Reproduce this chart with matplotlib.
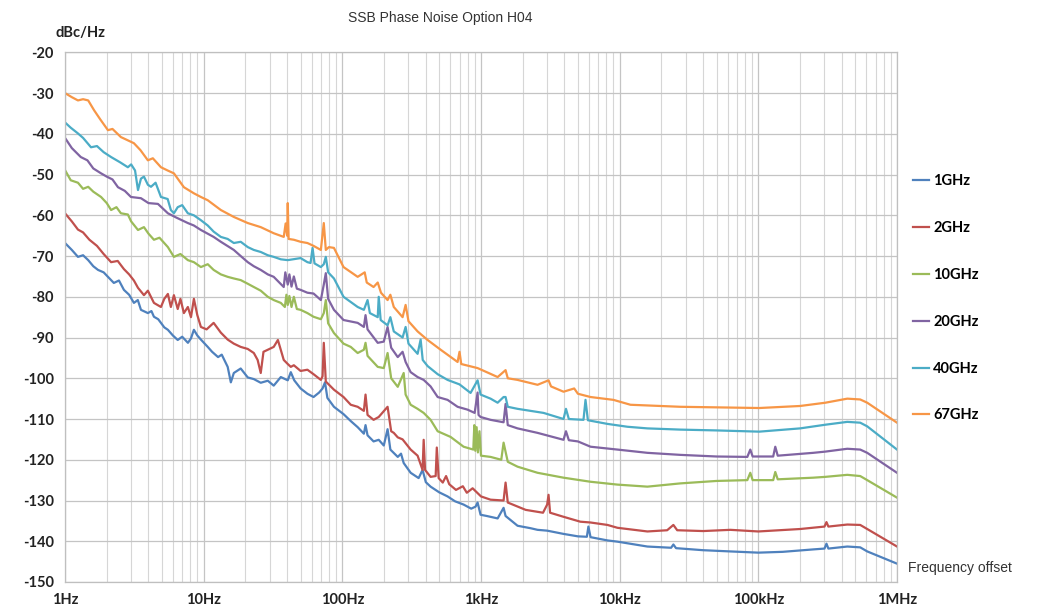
import numpy as np
import matplotlib
matplotlib.use('Agg')
import matplotlib.pyplot as plt
from matplotlib.ticker import FixedLocator, NullFormatter

# values (Hz, dBc/Hz)
f_1g = [1, 1.12, 1.24, 1.35, 1.47, 1.6, 1.73, 1.9, 2.04, 2.25, 2.45, 2.66, 2.9, 3.14, 3.35, 3.53, 3.96, 4.2, 4.38, 4.7,
        4.92, 5.2, 5.52, 6.0, 6.5, 7.0, 7.7, 8.1, 8.5, 9.0, 9.55, 10.7, 11.5, 12.7, 13.5, 14.9, 15.7, 16.5, 18.5, 20.8,
        23, 25.8, 29, 32, 36, 40.4, 42.5, 45, 50, 56, 62, 68, 72, 75, 78, 87, 102, 115, 129, 143,
        147, 152, 168, 183, 199, 212, 222, 251, 265, 277, 311, 355, 379, 400, 433, 500, 574, 650, 749, 850,
        914, 945, 993, 1100, 1318, 1455, 1504, 1835, 2277, 2558, 3000, 3937, 5000, 5800, 5950, 6166, 8170, 9640, 15850, 23500,
        24400, 25500, 40000, 62800, 100000, 150000, 250000, 300000, 310000, 320000, 438000, 543000, 610000, 1000000]
db_1g = [-66.8, -68.5, -70.2, -69.8, -71, -72.5, -73.4, -74, -75.1, -76.6, -76, -78.3, -79.5, -81.5, -80.8, -83.2, -84, -83.5, -84.9, -85.5,
         -86.4, -87.5, -88.1, -89.5, -90.6, -89.8, -91.3, -90.2, -88.1, -89.5, -90.5, -92.3, -93.5, -94.8, -94.2, -97.2, -101, -98.7, -97.6, -99.8,
         -100.2, -101.1, -100.6, -101.8, -99.7, -100.5, -98.5, -100.5, -102.5, -103.8, -104.6, -103.5, -102.5, -101, -104.8, -107, -108.8, -110.5, -112, -113.6,
         -111.5, -114, -115.5, -115.1, -116.5, -112.5, -117.5, -119.3, -118.5, -120.8, -123.2, -124.5, -122.5, -125.5, -126.6, -128, -129, -130.2, -131, -132,
         -131.5, -130.5, -133.5, -133.8, -134.4, -131.8, -133.8, -136.2, -136.8, -137.2, -137.4, -138.2, -138.8, -138.9, -136.4, -139, -139.8, -140.1, -141.3, -141.6,
         -140.8, -141.7, -142.2, -142.5, -142.8, -142.6, -142, -141.8, -140.6, -141.8, -141.3, -141.5, -142.5, -145.5]

f_2g = [1, 1.12, 1.24, 1.35, 1.5, 1.7, 1.9, 2.15, 2.4, 2.66, 2.9, 3.14, 3.36, 3.71, 3.96, 4.38, 4.92, 5.2, 5.52, 5.8,
        6.1, 6.5, 6.8, 7.2, 7.69, 8.1, 8.5, 9.0, 9.55, 10.5, 11.8, 13.3, 14.9, 16.5, 18.5, 20.8, 23, 24.5, 25.8, 27,
        29, 32, 34.3, 37.8, 40.4, 42.5, 44.7, 50, 56, 62, 70, 72, 73.5, 76, 87, 102, 115, 129, 143, 147,
        152, 168, 183, 212, 225, 235, 251, 272, 311, 349, 379, 386, 395, 433, 471, 480, 495, 530, 560, 590,
        660, 740, 790, 870, 1000, 1172, 1455, 1504, 1560, 2100, 2800, 3000, 3070, 3150, 3937, 5200, 6166, 8170, 9640, 15850,
        22000, 24400, 26000, 40000, 62800, 100000, 200000, 300000, 310000, 320000, 438000, 543000, 610000, 1000000]
db_2g = [-59.5, -61.5, -63.5, -64.2, -66, -67.5, -69.5, -71.5, -71.2, -73.2, -74.5, -76, -77.8, -79.6, -78.5, -81.5, -82.5, -80.5, -79.3, -82.5,
         -79.6, -83, -80.5, -84, -82.5, -85, -80.5, -84.5, -87.4, -88, -86.4, -88.8, -90.5, -91.5, -92.3, -92.8, -93.8, -95.5, -98.7, -93.5,
         -93, -92.3, -90.6, -95.5, -96.5, -97.2, -96.8, -98.2, -97.9, -99, -100.4, -99.5, -91.3, -100.8, -102.8, -104.6, -106.5, -107, -108, -104,
         -109, -110.2, -109.5, -107, -113, -113.4, -114.5, -115, -117.5, -119, -122.5, -115.1, -122.5, -124.2, -124, -117, -124.5, -125.6, -124, -126,
         -127.4, -126.5, -128.1, -127, -129, -129.8, -130, -125.6, -130.5, -132.3, -133, -131, -128.6, -133, -134, -135.2, -135.4, -136, -136.7, -137.6,
         -137.3, -136, -137.3, -137.5, -137.2, -137.6, -137, -136.4, -135.3, -136.4, -135.9, -136, -137, -141.3]

f_10g = [1, 1.1, 1.24, 1.35, 1.47, 1.6, 1.82, 2.0, 2.15, 2.35, 2.53, 2.84, 3.0, 3.36, 3.71, 4.0, 4.38, 4.8, 5.52, 6.1,
         6.8, 7.69, 8.5, 9.55, 10.7, 11.8, 13.3, 14.9, 16.5, 18.5, 20.8, 23, 25.8, 29, 32, 36, 38.5, 39.5, 40.4, 41.5,
         43, 44.7, 47, 50, 56, 62, 70, 73.5, 76, 79, 87, 102, 115, 129, 143, 147, 152, 180, 199, 212,
         225, 251, 277, 286, 311, 349, 386, 433, 487, 604, 749, 880, 895, 910, 930, 950, 975, 1000, 1172, 1400,
         1455, 1560, 1835, 2558, 3937, 6166, 9640, 15850, 27400, 50000, 83300, 87500, 91000, 128000, 132500, 138000, 249000, 304000, 438000, 543000,
         610000, 1000000]
db_10g = [-48.9, -51.4, -52, -53.5, -53, -54.2, -55.5, -57, -58.7, -58, -59.5, -59.8, -61.5, -63.6, -62.9, -64.5, -66, -65.5, -67.8, -70.2,
          -69.5, -71, -71.5, -72.7, -72, -73.4, -74.5, -75.1, -75.5, -75.9, -76.8, -77.6, -78.5, -80, -80.8, -81.5, -82.5, -79.5, -82, -79.8,
          -82.5, -80, -83, -83.2, -84, -84.9, -85.5, -84, -80.8, -86.5, -88.9, -91.5, -92.3, -93.8, -93, -91.3, -94.5, -97.2, -97.5, -93.8,
          -100, -102.1, -98.7, -104, -106.5, -107.5, -108.5, -110.2, -113, -114.4, -116.8, -117.5, -111.5, -117.8, -112, -118.2, -113, -119, -119.3, -120,
          -115.8, -120.5, -121.7, -123.2, -124.4, -125.4, -126.1, -126.6, -125.8, -125.2, -125, -123.2, -125, -125, -123, -124.8, -124.4, -124.2, -123.7, -124,
          -125, -129.3]

f_20g = [1, 1.12, 1.3, 1.45, 1.6, 1.82, 2.0, 2.2, 2.41, 2.7, 2.99, 3.53, 4.0, 4.68, 5.52, 6.3, 7.69, 8.5, 9.55, 11.8,
         13.3, 16.5, 18.5, 20.8, 23, 25.8, 29, 32, 37.8, 38.8, 40.4, 41.5, 43, 44.7, 47, 50, 56, 62, 70, 73.5,
         76, 79, 87, 102, 129, 143, 147, 152, 180, 199, 212, 225, 251, 272, 286, 311, 349, 386, 433, 487,
         574, 678, 800, 900, 945, 960, 993, 1172, 1455, 1504, 1560, 1835, 2558, 3937, 4100, 4300, 5000, 6166, 9640, 15850,
         27400, 50000, 83300, 87500, 91000, 128000, 132500, 138000, 249000, 304000, 438000, 543000, 610000, 1000000]
db_20g = [-41, -43.5, -45.7, -46.5, -48.5, -49.7, -50.5, -51.2, -53.1, -54, -55.5, -55.8, -57, -57.2, -59.5, -60.5, -61.9, -62.5, -63.6, -65.3,
          -66.5, -68.5, -70, -71.5, -72.5, -73.4, -74.5, -75.1, -77.6, -74, -77, -74.5, -77.5, -75, -78, -78.3, -79, -79.2, -80.8, -77,
          -74.2, -80.5, -83.2, -85.7, -86.4, -87.4, -84.5, -88, -91.3, -91, -87.4, -92.5, -94.8, -93.5, -96, -98.5, -99.7, -100.4, -102, -104.6,
          -105.3, -107, -107.7, -108.5, -103.5, -109, -109.5, -110.2, -110.8, -106.3, -111.5, -112.3, -113.4, -115.1, -113, -115.2, -115.5, -116.8, -117.5, -118.3,
          -118.8, -119.2, -119.3, -117.5, -119.2, -119.2, -116.8, -119, -118.3, -118, -117.3, -117.5, -118.3, -123.2]

f_40g = [1, 1.1, 1.24, 1.35, 1.54, 1.7, 1.9, 2.15, 2.5, 2.84, 3.0, 3.2, 3.36, 3.53, 3.71, 3.96, 4.17, 4.5, 4.92, 5.5,
         5.8, 6.1, 6.5, 7.0, 7.69, 8.5, 9.55, 10.7, 11.8, 13.3, 14.9, 16.5, 18.5, 20.8, 23, 25.8, 29, 32, 36, 40.4,
         50, 56, 59, 61, 63, 70, 73.5, 76, 79, 87, 102, 129, 143, 152, 158, 180, 183, 189, 212, 222,
         235, 272, 286, 300, 349, 367, 380, 412, 487, 574, 700, 841, 945, 993, 1172, 1318, 1455, 1504, 1560, 1835,
         2826, 3937, 4100, 4300, 5483, 5671, 5900, 8170, 11380, 15850, 27400, 50000, 101600, 200000, 304000, 438000, 543000, 610000, 1000000]
db_40g = [-37.2, -38.5, -39.9, -41, -43.3, -43, -44.5, -45.7, -47, -48.2, -47.5, -49, -53.8, -51, -50.5, -52.5, -53, -52, -55.5, -56,
          -58.7, -59.5, -58, -57.5, -59.5, -60, -61.2, -62.5, -64, -65.3, -65.8, -66.8, -66.5, -67.8, -68.5, -69, -69.8, -70.2, -70.8, -71,
          -70.5, -71.5, -71.7, -68, -71.8, -72.7, -72, -70.2, -74, -75.5, -80, -82.5, -83.2, -80.8, -84, -85, -80, -85.7, -87, -85,
          -88.5, -90, -87.4, -91.5, -94, -90.5, -95.5, -97, -99, -100.4, -101.5, -103.6, -100.5, -104, -105, -106, -104.6, -104.6, -107, -107.5,
          -108.5, -110, -107.5, -110, -110.2, -105.3, -110.3, -111.2, -111.9, -112.3, -112.6, -112.8, -113.1, -112.3, -111.4, -110.7, -110.9, -111.8, -117.5]

f_67g = [1, 1.12, 1.24, 1.35, 1.47, 1.62, 1.8, 2.04, 2.2, 2.53, 2.8, 3.14, 3.5, 3.96, 4.3, 4.92, 5.5, 6.1, 7.2, 8.5,
         9.55, 10.7, 13.3, 16.5, 20.8, 25.8, 32, 37.8, 39, 40, 40.4, 41, 44.7, 50, 56, 62, 70, 73.5, 76, 80,
         87, 102, 129, 145, 150, 168, 180, 190, 212, 222, 235, 272, 286, 300, 349, 412, 512, 678, 700, 720,
         945, 1100, 1318, 1504, 1560, 1835, 2558, 2826, 3070, 3200, 3937, 4700, 5000, 6166, 9020, 11960, 27400, 101600, 200000, 304000,
         438000, 543000, 610000, 1000000]
db_67g = [-30, -31, -31.8, -31.5, -31.8, -34.2, -36.5, -39.1, -38.8, -40.8, -41.5, -42.3, -44, -46.5, -46, -48.2, -49, -49.7, -53.1, -54.6,
          -55.5, -56.3, -58.7, -60.4, -61.9, -62.9, -64.4, -65.3, -62, -65, -57, -65.8, -66, -66.5, -66.8, -67.5, -68.5, -61.9, -68.5, -67.8,
          -68, -72.7, -75.1, -74, -76.5, -77.6, -76.5, -79, -80.8, -79.5, -82.5, -85, -82, -86, -88.5, -90.6, -93, -96, -93.5, -96.5,
          -97.5, -98.5, -99.7, -98, -100, -100.4, -101.6, -101, -100.5, -102, -103.3, -102.5, -103.8, -104.6, -105.3, -106.5, -107, -107.3, -106.8, -106,
          -105, -105.2, -106, -110.9]

series = [('1GHz', f_1g, db_1g, '#4F81BD'),
          ('2GHz', f_2g, db_2g, '#C0504D'),
          ('10GHz', f_10g, db_10g, '#9BBB59'),
          ('20GHz', f_20g, db_20g, '#8064A2'),
          ('40GHz', f_40g, db_40g, '#4BACC6'),
          ('67GHz', f_67g, db_67g, '#F79646')]

x_ticks = [1, 10, 100, 1e3, 1e4, 1e5, 1e6]
x_labels = ['1Hz', '10Hz', '100Hz', '1kHz', '10kHz', '100kHz', '1MHz']
y_ticks = list(range(-150, -19, 10))

plt.rcParams['font.family'] = ['Lato', 'DejaVu Sans']

fig = plt.figure(figsize=(10.4, 6.13), dpi=100)
ax = fig.add_axes([0.0625, 0.0506, 0.8, 0.864])

for name, f, db, c in series:
    ax.plot(f, db, color=c, lw=1.6, label=name)

ax.set_xscale('log')
ax.set_xlim(1, 1e6)
ax.set_ylim(-150, -20)
ax.xaxis.set_major_locator(FixedLocator(x_ticks))
ax.set_xticklabels(x_labels, fontweight='bold', fontsize=10.5, color='#222222')
minors = [m * 10**d for d in range(6) for m in range(2, 10)]
ax.xaxis.set_minor_locator(FixedLocator(minors))
ax.xaxis.set_minor_formatter(NullFormatter())
ax.set_yticks(y_ticks)
ax.set_yticklabels([str(v) for v in y_ticks], fontweight='bold', fontsize=10.5, color='#222222')
ax.tick_params(which='both', length=0, pad=8)
ax.grid(True, which='major', color='#c4c4c4', lw=0.9)
ax.grid(True, which='minor', axis='x', color='#d6d6d6', lw=0.8)
ax.set_axisbelow(True)
for s in ax.spines.values():
    s.set_color('#bfbfbf')
    s.set_linewidth(0.9)

fig.text(0.423, 0.97, 'SSB Phase Noise Option H04', ha='center', va='center',
         fontsize=10, family='Liberation Sans', color='#333333')
fig.text(0.053, 0.946, 'dBc/Hz', ha='left', va='center', fontsize=10.5, fontweight='bold', color='#222222')
fig.text(0.873, 0.073, 'Frequency offset', ha='left', va='center', fontsize=10,
         family='Liberation Sans', color='#333333')

ax.legend(loc='upper left', bbox_to_anchor=(0.872, 0.725), bbox_transform=fig.transFigure,
          frameon=False, handlelength=1.15, handletextpad=0.25, labelspacing=2.25,
          prop={'weight': 'bold', 'size': 10.5}, borderaxespad=0)

fig.savefig('out.png', dpi=100)
